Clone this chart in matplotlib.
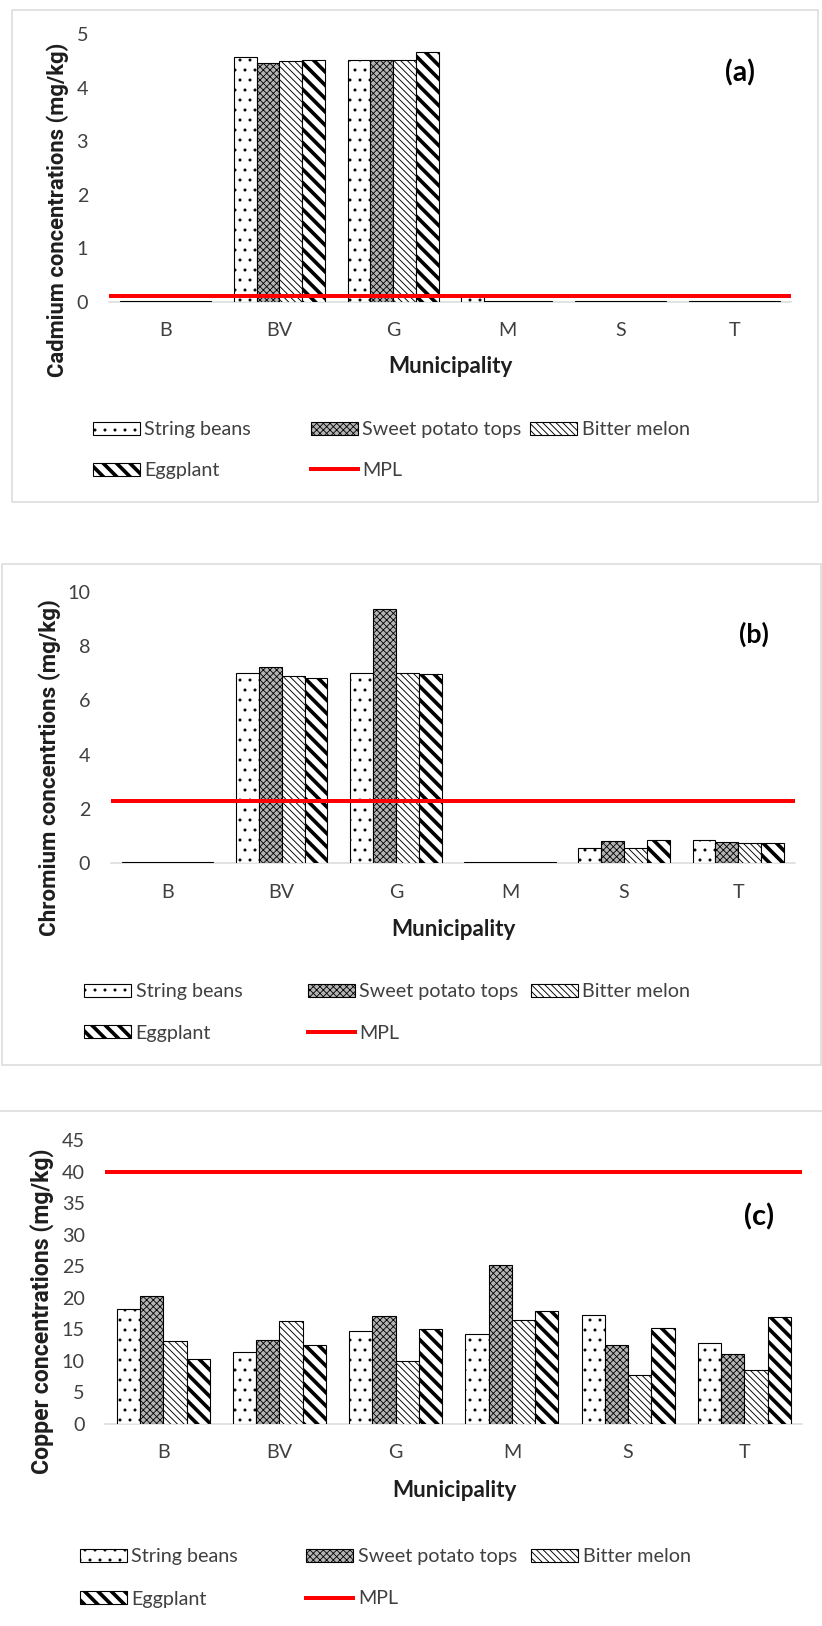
import matplotlib
matplotlib.use('Agg')
import matplotlib.pyplot as plt
import numpy as np
from matplotlib.lines import Line2D
from matplotlib.patches import Rectangle

# ---------------- data ----------------
municipalities = ['B', 'BV', 'G', 'M', 'S', 'T']
series_names = ['String beans', 'Sweet potato tops', 'Bitter melon', 'Eggplant']

cd_string_beans = [0.02, 4.58, 4.52, 0.12, 0.02, 0.02]
cd_sweet_potato = [0.02, 4.47, 4.52, 0.02, 0.02, 0.02]
cd_bitter_melon = [0.02, 4.49, 4.52, 0.02, 0.02, 0.02]
cd_eggplant     = [0.02, 4.52, 4.66, 0.02, 0.02, 0.02]
cd_mpl = 0.1
cd_ticks = [0, 1, 2, 3, 4, 5]

cr_string_beans = [0.05, 6.99, 6.99, 0.05, 0.57, 0.86]
cr_sweet_potato = [0.05, 7.24, 9.37, 0.05, 0.83, 0.77]
cr_bitter_melon = [0.05, 6.89, 6.99, 0.05, 0.55, 0.74]
cr_eggplant     = [0.05, 6.81, 6.96, 0.05, 0.86, 0.74]
cr_mpl = 2.3
cr_ticks = [0, 2, 4, 6, 8, 10]

cu_string_beans = [18.3, 11.4, 14.8, 14.2, 17.3, 12.9]
cu_sweet_potato = [20.3, 13.3, 17.1, 25.2, 12.5, 11.1]
cu_bitter_melon = [13.2, 16.3, 10.0, 16.5, 7.8, 8.6]
cu_eggplant     = [10.35, 12.5, 15.0, 17.9, 15.2, 16.9]
cu_mpl = 40
cu_ticks = [0, 5, 10, 15, 20, 25, 30, 35, 40, 45]

y_labels = ['Cadmium concentrations (mg/kg)',
            'Chromium concentrtions (mg/kg)',
            'Copper concentrations (mg/kg)']
panel_tags = ['(a)', '(b)', '(c)']
x_label = 'Municipality'
mpl_label = 'MPL'

# ---------------- figure ----------------
W, H, DPI = 822, 1626, 120
plt.rcParams['font.family'] = ['Lato', 'DejaVu Sans']
plt.rcParams['hatch.linewidth'] = 0.8
fig = plt.figure(figsize=(W / DPI, H / DPI), dpi=DPI)
renderer = fig.canvas.get_renderer()


def fx(x):
    return x / W


def fy(y):
    return 1 - y / H


def px2pt(p):
    return p * 72.0 / DPI


def fit(t, target, vertical=False):
    bb = t.get_window_extent(renderer)
    size = bb.height if vertical else bb.width
    t.set_fontsize(t.get_fontsize() * target / size)


# base font size from legend text width
tmp = fig.text(0, 0, 'String beans', fontsize=12)
fit(tmp, 107)
FS = tmp.get_fontsize()
tmp.remove()
FS_PX = FS * DPI / 72.0

TXT = '#404040'
LAB = '#1e1e1e'
GRID = '#d9d9d9'

styles = [
    dict(facecolor='white', hatch='..', hlw=0.6),
    dict(facecolor='#b4b4b4', hatch='xxxxxx', hlw=0.5),
    dict(facecolor='white', hatch='\\' * 6, hlw=0.55),
    dict(facecolor='white', hatch='\\' * 3, hlw=2.2),
]

panels = [
    dict(data=[cd_string_beans, cd_sweet_potato, cd_bitter_melon, cd_eggplant], mpl=cd_mpl,
         ticks=cd_ticks, box=(108.6, 34.2, 791.4, 301.7),
         ylab=(58, 210.3, 334), xlab=(450, 373), tag=(740, 73.3),
         leg_rows=(429.7, 470.8), leg_x=(92.7, 310.7, 530.0),
         frame=('rect', 11.7, 10, 818, 501.7)),
    dict(data=[cr_string_beans, cr_sweet_potato, cr_bitter_melon, cr_eggplant], mpl=cr_mpl,
         ticks=cr_ticks, box=(110.6, 591.7, 795.3, 863.3),
         ylab=(50, 768, 337), xlab=(453, 936.5), tag=(754, 634),
         leg_rows=(991.7, 1033.3), leg_x=(83.8, 307.5, 530.6),
         frame=('rect', 1.7, 564, 820.5, 1065)),
    dict(data=[cu_string_beans, cu_sweet_potato, cu_bitter_melon, cu_eggplant], mpl=cu_mpl,
         ticks=cu_ticks, box=(105.2, 1140.1, 802.4, 1424),
         ylab=(42, 1310.8, 325), xlab=(454, 1496.7), tag=(758.7, 1216.7),
         leg_rows=(1556.7, 1599), leg_x=(79.6, 306.3, 531.4),
         frame=('top', 0, 1111, 822, None)),
]

x = np.arange(len(municipalities))
bw = 0.2

for k, p in enumerate(panels):
    l, t, r, b = p['box']
    ax = fig.add_axes([fx(l), fy(b), (r - l) / W, (b - t) / H])
    handles = []
    for i, (vals, st) in enumerate(zip(p['data'], styles)):
        bars = ax.bar(x + (i - 1.5) * bw, vals, bw, facecolor=st['facecolor'],
                      edgecolor='black', linewidth=px2pt(1.1), hatch=st['hatch'],
                      zorder=3, label=series_names[i])
        for rect in bars:
            if hasattr(rect, 'set_hatch_linewidth'):
                rect.set_hatch_linewidth(st['hlw'])
        handles.append(bars)
    ax.axhline(p['mpl'], color='#ff0000', linewidth=px2pt(4), zorder=5)
    ax.set_xlim(-0.5, len(municipalities) - 0.5)
    ax.set_ylim(p['ticks'][0], p['ticks'][-1])
    ax.set_yticks(p['ticks'])
    ax.set_xticks(x)
    ax.set_xticklabels(municipalities)
    for s in ['top', 'right', 'left']:
        ax.spines[s].set_visible(False)
    ax.spines['bottom'].set_color(GRID)
    ax.spines['bottom'].set_linewidth(px2pt(1.5))
    ax.spines['bottom'].set_zorder(2)
    ax.tick_params(axis='y', length=0, pad=px2pt(20.5), labelsize=FS, labelcolor=TXT)
    ax.tick_params(axis='x', length=0, pad=px2pt(20.5), labelsize=FS, labelcolor=TXT)
    ax.patch.set_alpha(0)

    # y label
    yx, yy, ylen = p['ylab']
    tl = fig.text(fx(yx), fy(yy), y_labels[k], rotation=90, ha='center', va='center',
                  fontweight='bold', family=['Roboto', 'DejaVu Sans'], color=LAB, fontsize=12)
    fit(tl, ylen, vertical=True)
    # x label
    xl = fig.text(fx(p['xlab'][0]), fy(p['xlab'][1]), x_label, ha='center', va='baseline',
                  fontweight='bold', color=LAB, fontsize=12)
    fit(xl, 125)
    # tag
    tg = fig.text(fx(p['tag'][0]), fy(p['tag'][1]), panel_tags[k], ha='center', va='center',
                  fontweight='bold', color='black', fontsize=12)
    fit(tg, 30)

    # legend entries (row-wise like Excel)
    mpl_handle = Line2D([], [], color='#ff0000', linewidth=px2pt(4))
    entries = [(handles[0], series_names[0], 0, 0, 0), (handles[1], series_names[1], 1, 0, 1),
               (handles[2], series_names[2], 2, 0, 2), (handles[3], series_names[3], 0, 1, 3),
               (mpl_handle, mpl_label, 1, 1, None)]
    for h, lab, col, row, si in entries:
        lg = fig.legend(handles=[h], labels=[lab], loc='center left',
                        bbox_to_anchor=(fx(p['leg_x'][col]), fy(p['leg_rows'][row])),
                        bbox_transform=fig.transFigure, frameon=False, borderpad=0,
                        borderaxespad=0, handlelength=47 / FS_PX, handleheight=13 / FS_PX,
                        handletextpad=4.7 / FS_PX, fontsize=FS)
        for txt in lg.get_texts():
            txt.set_color(TXT)
        if si is not None:
            for pp in lg.get_patches():
                if hasattr(pp, 'set_hatch_linewidth'):
                    pp.set_hatch_linewidth(styles[si]['hlw'])

    # panel frame
    fr = p['frame']
    if fr[0] == 'rect':
        _, x0, y0, x1, y1 = fr
        fig.patches.append(Rectangle((fx(x0), fy(y1)), (x1 - x0) / W, (y1 - y0) / H,
                                     transform=fig.transFigure, fill=False,
                                     edgecolor=GRID, linewidth=px2pt(1.5)))
    else:
        _, x0, y0, x1, _ = fr
        fig.lines.append(Line2D([fx(x0), fx(x1)], [fy(y0), fy(y0)], transform=fig.transFigure,
                                color=GRID, linewidth=px2pt(1.5)))

fig.savefig('out.png', dpi=DPI, facecolor='white')
